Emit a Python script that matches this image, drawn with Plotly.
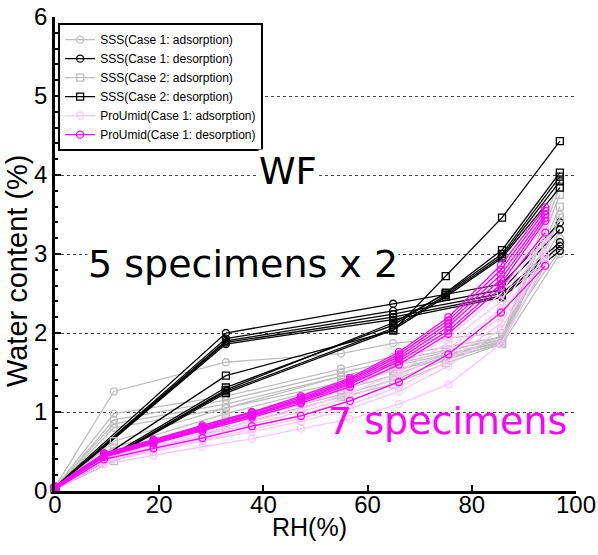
import plotly.graph_objects as go

# ---------------- data ----------------
# SSS Case 1 adsorption (grey circles)
x_s1_ads = [0, 11.3, 32.8, 54.9, 64.9, 85.8, 96.9]
y_s1_ads = [
    [0.05, 1.26, 1.63, 1.74, 1.87, 2.00, 3.05],
    [0.04, 0.98, 1.20, 1.55, 1.70, 1.95, 3.30],
    [0.03, 0.90, 1.15, 1.50, 1.65, 1.92, 3.50],
    [0.04, 0.85, 1.10, 1.45, 1.58, 1.88, 3.20],
    [0.03, 0.80, 1.05, 1.38, 1.52, 1.86, 3.00],
]
# SSS Case 1 desorption (black circles)
x_s1_des = [0, 32.8, 64.9, 85.8, 96.9]
y_s1_des = [
    [0.05, 2.00, 2.37, 2.62, 3.40],
    [0.04, 1.93, 2.28, 2.55, 3.31],
    [0.04, 1.90, 2.24, 2.50, 3.15],
    [0.03, 1.88, 2.20, 2.47, 3.10],
    [0.03, 1.86, 2.17, 2.45, 3.04],
]
# SSS Case 2 adsorption (grey squares)
x_s2_ads = [0, 11.3, 32.8, 54.9, 64.9, 75.0, 85.8, 96.9]
y_s2_ads = [
    [0.03, 0.63, 1.05, 1.45, 1.60, 1.76, 1.95, 3.95],
    [0.02, 0.55, 0.98, 1.35, 1.52, 1.72, 1.92, 3.85],
    [0.02, 0.50, 0.92, 1.28, 1.46, 1.70, 1.90, 3.75],
    [0.03, 0.45, 0.86, 1.22, 1.40, 1.66, 1.88, 3.60],
    [0.02, 0.38, 0.80, 1.19, 1.35, 1.62, 1.86, 3.46],
]
# SSS Case 2 desorption (black squares)
x_s2_des = [0, 32.8, 64.9, 75.0, 85.8, 96.9]
y_s2_des = [
    [0.03, 1.46, 2.03, 2.72, 3.46, 4.43],
    [0.03, 1.31, 2.10, 2.51, 3.05, 4.03],
    [0.02, 1.28, 2.13, 2.50, 3.00, 3.98],
    [0.02, 1.26, 2.06, 2.48, 2.97, 3.92],
    [0.02, 1.24, 2.04, 2.46, 2.95, 3.84],
]
# ProUmid Case 1 (7 specimens)
x_pu = [0, 9.4, 18.9, 28.3, 37.8, 47.2, 56.6, 66.0, 75.5, 85.6, 94.1]
y_pu_ads = [
    [0.04, 0.44, 0.60, 0.76, 0.92, 1.09, 1.30, 1.57, 1.95, 2.50, 3.40],
    [0.04, 0.42, 0.58, 0.73, 0.88, 1.04, 1.24, 1.50, 1.88, 2.40, 3.30],
    [0.03, 0.41, 0.56, 0.70, 0.85, 1.00, 1.19, 1.44, 1.80, 2.30, 3.20],
    [0.03, 0.40, 0.54, 0.68, 0.82, 0.96, 1.14, 1.38, 1.72, 2.20, 3.10],
    [0.03, 0.38, 0.52, 0.65, 0.78, 0.92, 1.09, 1.32, 1.65, 2.12, 3.00],
    [0.02, 0.37, 0.50, 0.63, 0.75, 0.88, 1.04, 1.26, 1.58, 2.05, 2.95],
    [0.02, 0.34, 0.45, 0.56, 0.66, 0.79, 0.91, 1.10, 1.35, 1.86, 2.90],
]
y_pu_des = [
    [0.06, 0.48, 0.65, 0.83, 1.00, 1.20, 1.43, 1.76, 2.20, 2.86, 3.59],
    [0.05, 0.47, 0.64, 0.81, 0.99, 1.18, 1.41, 1.73, 2.16, 2.80, 3.55],
    [0.05, 0.46, 0.63, 0.80, 0.97, 1.16, 1.39, 1.70, 2.12, 2.74, 3.50],
    [0.04, 0.45, 0.62, 0.79, 0.96, 1.15, 1.37, 1.67, 2.08, 2.68, 3.46],
    [0.04, 0.44, 0.61, 0.78, 0.95, 1.13, 1.35, 1.64, 2.03, 2.62, 3.42],
    [0.03, 0.43, 0.60, 0.76, 0.93, 1.11, 1.32, 1.60, 1.99, 2.57, 3.27],
    [0.02, 0.40, 0.54, 0.67, 0.82, 0.95, 1.14, 1.38, 1.73, 2.26, 2.85],
]

legend_names = [
    "SSS(Case 1: adsorption)",
    "SSS(Case 1: desorption)",
    "SSS(Case 2: adsorption)",
    "SSS(Case 2: desorption)",
    "ProUmid(Case 1: adsorption)",
    "ProUmid(Case 1: desorption)",
]

# ---------------- figure ----------------
fig = go.Figure()

groups = [
    (x_s1_ads, y_s1_ads, "#BEBEBE", "circle-open", legend_names[0]),
    (x_s1_des, y_s1_des, "#000000", "circle-open", legend_names[1]),
    (x_s2_ads, y_s2_ads, "#BEBEBE", "square-open", legend_names[2]),
    (x_s2_des, y_s2_des, "#000000", "square-open", legend_names[3]),
    (x_pu, y_pu_ads, "#FFC4FF", "circle-open", legend_names[4]),
    (x_pu, y_pu_des, "#FF00FF", "circle-open", legend_names[5]),
]

for gi, (xs, ys_list, col, sym, name) in enumerate(groups):
    for k, ys in enumerate(ys_list):
        fig.add_trace(go.Scatter(
            x=xs, y=ys, mode="lines+markers", name=name,
            legendgroup=name, showlegend=(k == 0),
            line=dict(color=col, width=1.3),
            marker=dict(symbol=sym, size=7, color=col,
                        line=dict(color=col, width=1.3)),
            cliponaxis=False,
        ))

fig.add_annotation(x=44.7, y=4.04, text="WF", showarrow=False,
                   font=dict(family="DejaVu Sans", size=37, color="black"),
                   bgcolor="white", borderpad=0, xanchor="center", yanchor="middle")
fig.add_annotation(x=36.0, y=2.87, text="5 specimens x 2", showarrow=False,
                   font=dict(family="DejaVu Sans", size=38, color="black"),
                   bgcolor="white", borderpad=0, xanchor="center", yanchor="middle")
fig.add_annotation(x=75.3, y=0.89, text="7 specimens", showarrow=False,
                   font=dict(family="DejaVu Sans", size=38, color="#FF00FF"),
                   xanchor="center", yanchor="middle")

axis_font = dict(family="Liberation Sans", size=24, color="black")

# axis titles
fig.add_annotation(xref="paper", yref="paper", x=-0.073, y=0.466,
                   text="Water content (%)", textangle=-90, showarrow=False,
                   font=dict(family="Liberation Sans", size=29, color="black"),
                   xanchor="center", yanchor="middle")
fig.add_annotation(xref="paper", yref="paper", x=0.489, y=-0.076,
                   text="RH(%)", showarrow=False,
                   font=dict(family="Liberation Sans", size=25, color="black"),
                   xanchor="center", yanchor="middle")

fig.update_layout(
    width=598, height=555,
    margin=dict(l=55, r=22, t=17, b=64),
    paper_bgcolor="white", plot_bgcolor="white",
    showlegend=True,
    legend=dict(
        x=0.006, y=0.987, xanchor="left", yanchor="top",
        bgcolor="white", bordercolor="black", borderwidth=2,
        font=dict(family="Liberation Sans", size=12, color="black"),
        tracegroupgap=0,
    ),
    xaxis=dict(
        range=[0, 100], dtick=20, tick0=0,
        ticks="inside", ticklen=6, tickwidth=1.5, tickcolor="black",
        showline=True, linewidth=2.5, linecolor="black",
        showgrid=False, zeroline=False, automargin=False,
        tickfont=axis_font, ticklabelstandoff=-10, ticklabeloverflow="allow",
    ),
    yaxis=dict(
        range=[0, 6], dtick=1, tick0=0,
        ticks="inside", ticklen=6, tickwidth=1.5, tickcolor="black",
        minor=dict(dtick=0.2, ticks="inside", ticklen=3, tickcolor="black", showgrid=False),
        showline=True, linewidth=2.5, linecolor="black",
        showgrid=True, gridcolor="#444444", griddash="dot", gridwidth=1,
        zeroline=False, automargin=False,
        tickfont=axis_font, ticklabeloverflow="allow",
    ),
)

# remove the browser's default 8px body margin so the figure fills the window
fig.write_html("out.html", config={"displayModeBar": False},
               post_script="document.body.style.margin='0px';")
